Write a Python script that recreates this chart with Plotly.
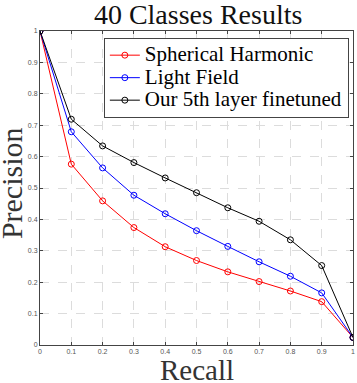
import plotly.graph_objects as go

recall = [0, 0.1, 0.2, 0.3, 0.4, 0.5, 0.6, 0.7, 0.8, 0.9, 1.0]
spherical = [1.0, 0.576, 0.459, 0.374, 0.313, 0.269, 0.233, 0.202, 0.172, 0.138, 0.024]
light_field = [1.0, 0.679, 0.564, 0.477, 0.418, 0.364, 0.314, 0.265, 0.219, 0.166, 0.024]
ours = [1.0, 0.719, 0.634, 0.581, 0.532, 0.485, 0.437, 0.394, 0.335, 0.253, 0.024]
names = ["Spherical Harmonic", "Light Field", "Our 5th layer finetuned"]
colors = ["#ff0000", "#0000ff", "#000000"]
ticks = [0, 0.1, 0.2, 0.3, 0.4, 0.5, 0.6, 0.7, 0.8, 0.9, 1]
tick_text = ["0", "0.1", "0.2", "0.3", "0.4", "0.5", "0.6", "0.7", "0.8", "0.9", "1"]

SERIF = "Liberation Serif, Times New Roman, serif"

fig = go.Figure()
for name, ys, c in zip(names, [spherical, light_field, ours], colors):
    fig.add_trace(go.Scatter(
        x=recall, y=ys, name='<span style="font-size:21px">' + name + '</span>',
        mode="lines+markers",
        line=dict(color=c, width=1),
        marker=dict(symbol="circle-open", size=6, color=c, line=dict(width=1, color=c)),
    ))

axis_common = dict(
    range=[0, 1], tickvals=ticks, ticktext=tick_text,
    showgrid=True, gridcolor="#dcdcdc", griddash="dash", gridwidth=1,
    showline=True, linecolor="#444", linewidth=1, mirror="ticks",
    ticks="inside", ticklen=3, tickcolor="#444",
    tickfont=dict(family="Liberation Sans, Arial", size=7, color="#555"),
    zeroline=False, fixedrange=True, automargin=False,
)

fig.update_layout(
    width=357, height=383,
    margin=dict(l=40, r=4, t=31, b=38),
    paper_bgcolor="white", plot_bgcolor="white",
    title=dict(text="40 Classes Results", x=0.555, xanchor="center", y=0.963, yanchor="middle",
               font=dict(family=SERIF, size=28, color="#111")),
    xaxis=dict(**axis_common),
    yaxis=dict(**axis_common),
    legend=dict(x=0.204, y=0.978, xanchor="left", yanchor="top",
                bgcolor="white", bordercolor="#444", borderwidth=1,
                font=dict(family=SERIF, size=15, color="#000"),
                itemwidth=30, tracegroupgap=0),
    showlegend=True,
    annotations=[
        dict(text="Recall", xref="paper", yref="paper", x=0.5, y=-0.081,
             xanchor="center", yanchor="middle", showarrow=False,
             font=dict(family=SERIF, size=29, color="#333")),
        dict(text="Precision", xref="paper", yref="paper", x=-0.089, y=0.516,
             xanchor="center", yanchor="middle", showarrow=False, textangle=-90,
             font=dict(family=SERIF, size=30, color="#333")),
    ],
)

fig.write_html("out.html", config={"displayModeBar": False},
               post_script="document.body.style.margin='0';")
